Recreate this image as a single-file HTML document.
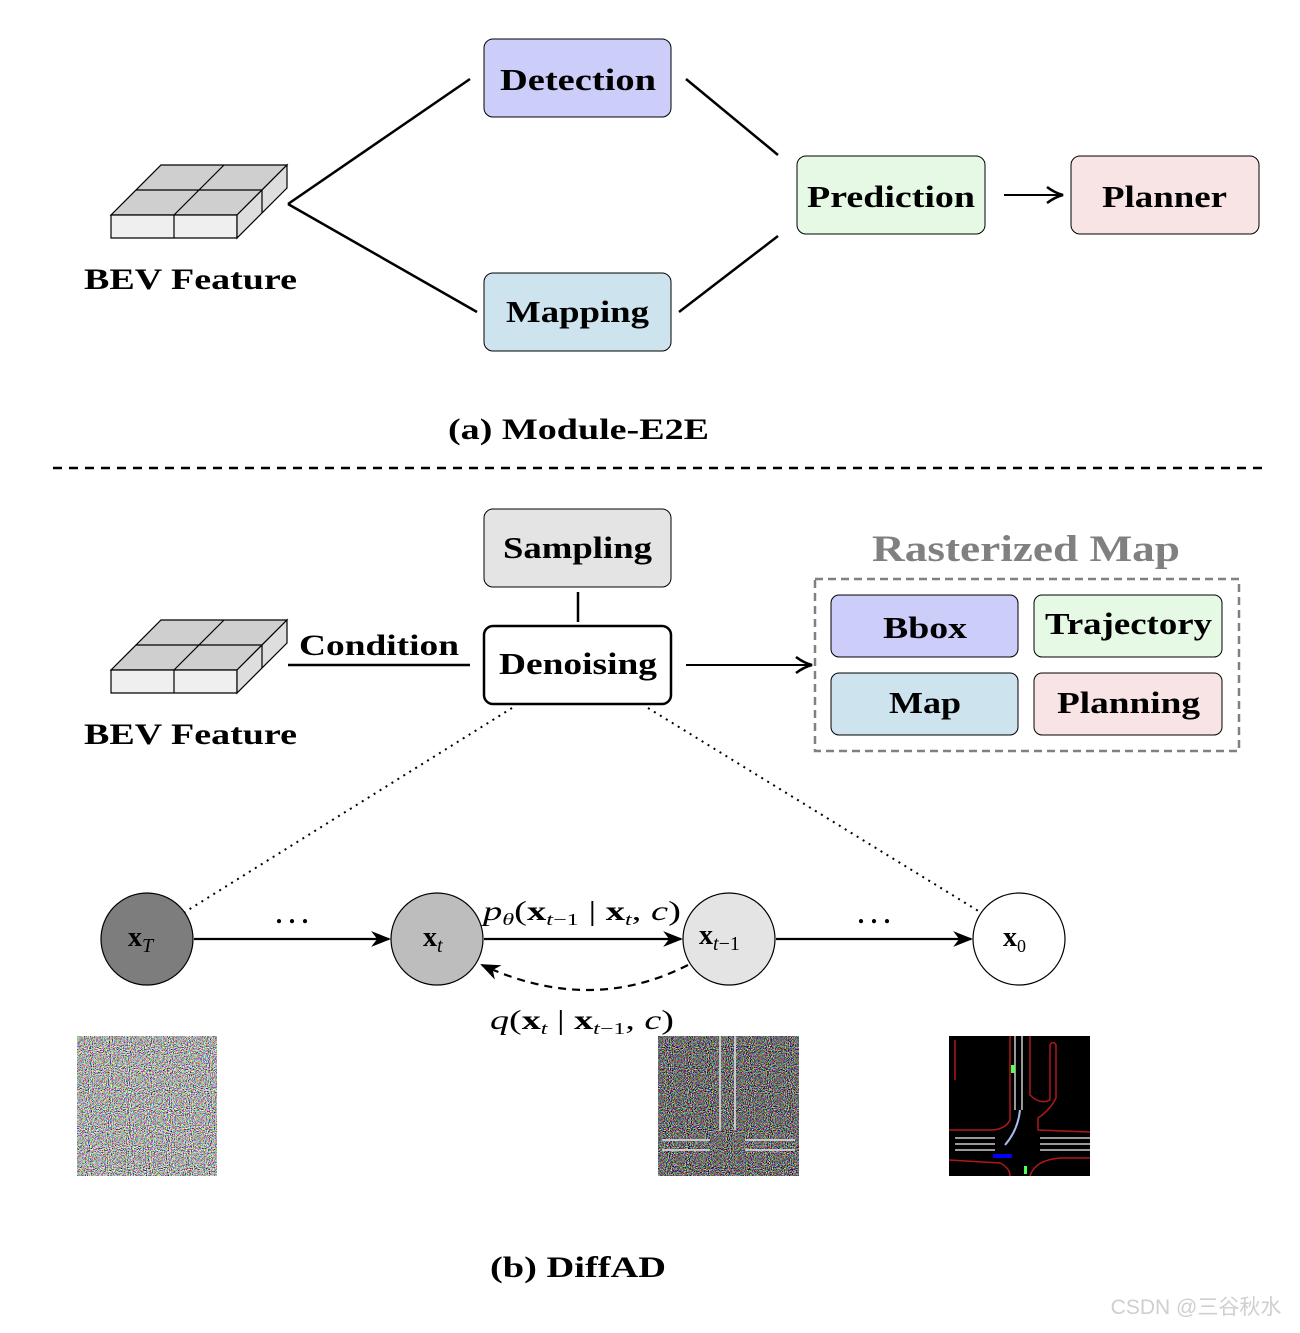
<!DOCTYPE html>
<html><head><meta charset="utf-8"><style>
body{margin:0;background:#fff}
svg text{font-family:"Liberation Serif",serif;font-weight:bold}
</style></head><body>
<svg width="1300" height="1328" viewBox="0 0 1300 1328" xmlns="http://www.w3.org/2000/svg">
<defs>
<filter id="n1" x="0" y="0" width="100%" height="100%"><feTurbulence type="fractalNoise" baseFrequency="0.95" numOctaves="1" seed="3"/><feColorMatrix type="matrix" values="4 0 0 0 -1.5  0 4 0 0 -1.5  0 0 4 0 -1.5  0 0 0 0 1"/></filter>
<filter id="n2" x="0" y="0" width="100%" height="100%"><feTurbulence type="fractalNoise" baseFrequency="0.95" numOctaves="1" seed="7"/><feColorMatrix type="matrix" values="3.5 0 0 0 -1.55  0 3.5 0 0 -1.55  0 0 3.5 0 -1.55  0 0 0 0 1"/></filter>
<marker id="ar" viewBox="0 0 10 10" refX="9" refY="5" markerWidth="9" markerHeight="9" orient="auto"><path d="M0,1 L10,5 L0,9 L3,5z" fill="#000"/></marker>
<marker id="ar2" viewBox="0 0 10 10" refX="9" refY="5" markerWidth="10" markerHeight="10" orient="auto"><path d="M1,1 Q5,4 9,5 Q5,6 1,9" fill="none" stroke="#000" stroke-width="1.3"/></marker>
<g id="cube" stroke="#000" stroke-width="1.2">
<polygon points="111,215 237,215 287,165 161,165" fill="#cfcfcf"/>
<polygon points="111,215 237,215 237,238 111,238" fill="#efefef"/>
<polygon points="237,215 287,165 287,188 237,238" fill="#dedede"/>
<line x1="174" y1="215" x2="224" y2="165"/><line x1="136" y1="190" x2="262" y2="190"/>
<line x1="174" y1="215" x2="174" y2="238"/><line x1="262" y1="190" x2="262" y2="213"/>
</g>
</defs>
<use href="#cube"/>
<text x="84" y="289" font-size="30" textLength="213" lengthAdjust="spacingAndGlyphs">BEV Feature</text>
<g stroke="#000" stroke-width="2.5" fill="none">
<path d="M288,204 L470,79 M288,204 L477,312 M686,79 L778,155 M679,312 L778,236"/>
<line x1="1004" y1="195" x2="1063" y2="195" stroke-width="2" marker-end="url(#ar2)"/>
</g>
<g stroke="#000" stroke-width="1">
<rect x="484" y="39" width="187" height="78" rx="9" fill="#cccdf9"/>
<rect x="484" y="273" width="187" height="78" rx="9" fill="#cde4ee"/>
<rect x="797" y="156" width="188" height="78" rx="9" fill="#e5f9e4"/>
<rect x="1071" y="156" width="188" height="78" rx="9" fill="#f8e4e4"/>
</g>
<g font-size="31" lengthAdjust="spacingAndGlyphs">
<text x="500" y="90" textLength="156" lengthAdjust="spacingAndGlyphs">Detection</text>
<text x="506" y="322" textLength="143" lengthAdjust="spacingAndGlyphs">Mapping</text>
<text x="807" y="207" textLength="168" lengthAdjust="spacingAndGlyphs">Prediction</text>
<text x="1102" y="207" textLength="125" lengthAdjust="spacingAndGlyphs">Planner</text>
</g>
<text x="448" y="439" font-size="30" textLength="261" lengthAdjust="spacingAndGlyphs">(a) Module-E2E</text>
<line x1="53" y1="468" x2="1268" y2="468" stroke="#000" stroke-width="2.5" stroke-dasharray="9,7"/>
<use href="#cube" y="455"/>
<text x="84" y="744" font-size="30" textLength="213" lengthAdjust="spacingAndGlyphs">BEV Feature</text>
<text x="299" y="655" font-size="30" textLength="160" lengthAdjust="spacingAndGlyphs">Condition</text>
<line x1="288" y1="665" x2="470" y2="665" stroke="#000" stroke-width="2.5"/>
<line x1="578" y1="592" x2="578" y2="622" stroke="#000" stroke-width="2.5"/>
<rect x="484" y="509" width="187" height="78" rx="9" fill="#e4e4e4" stroke="#000"/>
<text x="503" y="558" font-size="31" textLength="149" lengthAdjust="spacingAndGlyphs">Sampling</text>
<rect x="484" y="626" width="187" height="78" rx="9" fill="#fff" stroke="#000" stroke-width="2.5"/>
<text x="499" y="674" font-size="31" textLength="158" lengthAdjust="spacingAndGlyphs">Denoising</text>
<line x1="686" y1="665" x2="812" y2="665" stroke="#000" stroke-width="2" marker-end="url(#ar2)"/>
<text x="872" y="561" font-size="37" fill="#808080" textLength="308" lengthAdjust="spacingAndGlyphs">Rasterized Map</text>
<rect x="815" y="579" width="424" height="172" fill="none" stroke="#808080" stroke-width="2.5" stroke-dasharray="8,5"/>
<g stroke="#000" stroke-width="1">
<rect x="831" y="595" width="187" height="62" rx="8" fill="#cccdf9"/>
<rect x="1034" y="595" width="188" height="62" rx="8" fill="#e5f9e4"/>
<rect x="831" y="673" width="187" height="62" rx="8" fill="#cde4ee"/>
<rect x="1034" y="673" width="188" height="62" rx="8" fill="#f8e4e4"/>
</g>
<g font-size="31">
<text x="883" y="638" textLength="84" lengthAdjust="spacingAndGlyphs">Bbox</text>
<text x="1045" y="634" textLength="167" lengthAdjust="spacingAndGlyphs">Trajectory</text>
<text x="889" y="713" textLength="72" lengthAdjust="spacingAndGlyphs">Map</text>
<text x="1057" y="713" textLength="143" lengthAdjust="spacingAndGlyphs">Planning</text>
</g>
<g stroke="#000" stroke-width="2" stroke-dasharray="2,5" fill="none">
<line x1="512" y1="708" x2="185" y2="912"/><line x1="648" y1="708" x2="980" y2="912"/>
</g>
<g stroke="#000" stroke-width="2.2" fill="none">
<line x1="194" y1="939" x2="389" y2="939" marker-end="url(#ar)"/>
<line x1="484" y1="939" x2="681" y2="939" marker-end="url(#ar)"/>
<line x1="776" y1="939" x2="971" y2="939" marker-end="url(#ar)"/>
<path d="M688,965 Q590,1015 482,965" stroke-dasharray="8,6" marker-end="url(#ar)"/>
</g>
<g stroke="#000" stroke-width="1.2">
<circle cx="147" cy="939" r="46" fill="#7d7d7d"/>
<circle cx="437" cy="939" r="46" fill="#bdbdbd"/>
<circle cx="729" cy="939" r="46" fill="#e4e4e4"/>
<circle cx="1019" cy="939" r="46" fill="#fff"/>
</g>
<g font-size="28" font-family="Liberation Serif,serif">
<text x="128" y="946">x<tspan font-size="20" font-style="italic" font-weight="normal" dy="6">T</tspan></text>
<text x="423" y="946">x<tspan font-size="20" font-style="italic" font-weight="normal" dy="6">t</tspan></text>
<text x="699" y="944">x<tspan font-size="20" font-style="italic" font-weight="normal" dy="6">t</tspan><tspan font-size="20" font-weight="normal">−1</tspan></text>
<text x="1003" y="946">x<tspan font-size="18" font-weight="normal" dy="6">0</tspan></text>
</g>
<text x="292" y="923" font-size="26" font-weight="normal" text-anchor="middle">. . .</text>
<text x="874" y="923" font-size="26" font-weight="normal" text-anchor="middle">. . .</text>
<text x="483" y="920" font-size="27" font-weight="normal" textLength="198" lengthAdjust="spacingAndGlyphs" style="font-weight:normal"><tspan font-style="italic">p</tspan><tspan font-size="17" font-style="italic" dy="5">θ</tspan><tspan dy="-5">(</tspan><tspan font-weight="bold">x</tspan><tspan font-size="17" font-style="italic" dy="5">t</tspan><tspan font-size="17">−1</tspan><tspan dy="-5"> | </tspan><tspan font-weight="bold">x</tspan><tspan font-size="17" font-style="italic" dy="5">t</tspan><tspan dy="-5">, </tspan><tspan font-style="italic">c</tspan>)</text>
<text x="490" y="1029" font-size="27" textLength="184" lengthAdjust="spacingAndGlyphs" style="font-weight:normal"><tspan font-style="italic">q</tspan>(<tspan font-weight="bold">x</tspan><tspan font-size="17" font-style="italic" dy="5">t</tspan><tspan dy="-5"> | </tspan><tspan font-weight="bold">x</tspan><tspan font-size="17" font-style="italic" dy="5">t</tspan><tspan font-size="17">−1</tspan><tspan dy="-5">, </tspan><tspan font-style="italic">c</tspan>)</text>
<rect x="77" y="1036" width="140" height="140" filter="url(#n1)"/>
<rect x="658" y="1036" width="141" height="140" filter="url(#n2)"/>
<g stroke="#ddd" stroke-width="2" opacity="0.8">
<line x1="720" y1="1036" x2="720" y2="1130"/><line x1="735" y1="1036" x2="735" y2="1130"/>
<line x1="662" y1="1140" x2="710" y2="1140"/><line x1="662" y1="1150" x2="710" y2="1150"/><line x1="745" y1="1140" x2="795" y2="1140"/><line x1="745" y1="1150" x2="795" y2="1150"/>
</g>
<rect x="949" y="1036" width="141" height="140" fill="#000"/>
<g fill="none" stroke-width="1.5">
<path d="M1010,1036 L1010,1120 Q1005,1130 990,1130 L949,1130 M1030,1036 L1030,1095 Q1040,1105 1050,1100 L1050,1045 Q1053,1040 1056,1045 L1056,1098 Q1050,1110 1038,1118 L1038,1130 L1090,1132 M949,1160 L1000,1163 Q1010,1168 1010,1176 M1030,1176 Q1035,1160 1060,1158 L1090,1158 M955,1040 L955,1080" stroke="#b01818"/>
<path d="M955,1138 L995,1138 M955,1144 L995,1144 M955,1150 L995,1150 M1040,1138 L1090,1138 M1040,1144 L1090,1144 M1040,1150 L1090,1150 M1015,1036 L1015,1110 M1022,1036 L1022,1110" stroke="#ccc"/>
<path d="M1020,1110 Q1018,1130 1005,1145" stroke="#aabbee" stroke-width="2"/>
</g>
<rect x="993" y="1154" width="19" height="4" fill="#00f"/>
<rect x="1011" y="1065" width="4" height="8" fill="#5f5"/><rect x="1024" y="1166" width="3" height="8" fill="#5f5"/>
<text x="490" y="1277" font-size="30" textLength="176" lengthAdjust="spacingAndGlyphs">(b) DiffAD</text>
<text x="1196" y="1314" font-size="21" font-weight="normal" text-anchor="middle" fill="#cfcfcf" style="font-family:'Liberation Sans','Noto Sans CJK SC',sans-serif;font-weight:normal">CSDN @三谷秋水</text>
</svg>
</body></html>
